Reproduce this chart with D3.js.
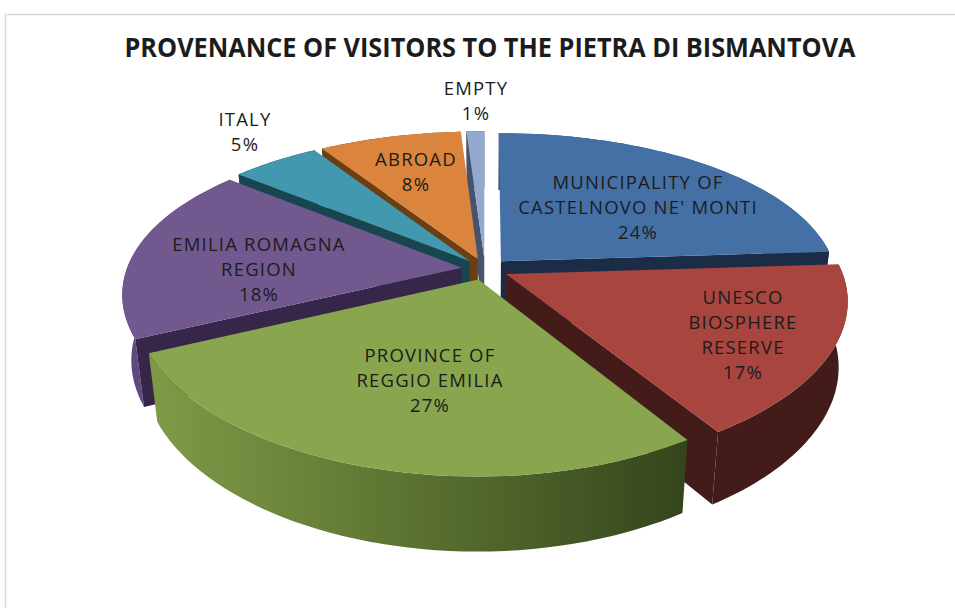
<!DOCTYPE html>
<html>
<head>
<meta charset="utf-8">
<script src="https://cdnjs.cloudflare.com/ajax/libs/d3/7.8.5/d3.min.js"></script>
<style>
  html, body { margin: 0; padding: 0; background: #fff; }
  svg { display: block; }
  text { font-family: "Open Sans", "Noto Sans", sans-serif; fill: #1c1c1c; }
</style>
</head>
<body>
<div id="chart"></div>
<script>
// data, clockwise from 12 o'clock
const categories = ["MUNICIPALITY OF CASTELNOVO NE' MONTI", "UNESCO BIOSPHERE RESERVE", "PROVINCE OF REGGIO EMILIA",
                    "EMILIA ROMAGNA REGION", "ITALY", "ABROAD", "EMPTY"];
const shares = [24, 17, 27, 18, 5, 8, 1];
const labelLines = [
  ["MUNICIPALITY OF", "CASTELNOVO NE' MONTI"],
  ["UNESCO", "BIOSPHERE", "RESERVE"],
  ["PROVINCE OF", "REGGIO EMILIA"],
  ["EMILIA ROMAGNA", "REGION"],
  ["ITALY"],
  ["ABROAD"],
  ["EMPTY"]
];
const title = "PROVENANCE OF VISITORS TO THE PIETRA DI BISMANTOVA";

// styling per slice
const topColors  = ["#4470a6", "#a8453f", "#89a54e", "#71588f", "#4198af", "#db843d", "#93a9cf"];
const sideColors = ["#1b2c47", "#431c19", "#34451c", "#35264a", "#174650", "#6b3f14", "#46536f"];
const rimColors  = ["#2c4a70", "#431c19", "url(#rimGreen)", "#5e4a80", "#174650", "#6b3f14", "#46536f"];
const drawOrder  = [6, 5, 0, 4, 3, 1, 2];   // back to front
const labelX = [638, 743, 430, 259, 245, 416, 476];
const labelY = [183, 298, 356, 245, 120, 160, 89];   // first line centre

const width = 955, height = 608;
const cx = 485, cy = 269;
const Rx = 335, Ry = 155;
const perspX = 0.16, perspY = 0.19, explode = 0.07;
const depth = 64, bottomShrink = 0.975;
const lineGap = 25;

const svg = d3.select("#chart").append("svg").attr("width", width).attr("height", height);

// frame
svg.append("path")
  .attr("d", `M5.5,${height} V14.5 H${width}`)
  .attr("fill", "none").attr("stroke", "#d9d9d9").attr("stroke-width", 1.5);

const grad = svg.append("defs").append("linearGradient")
  .attr("id", "rimGreen").attr("gradientUnits", "userSpaceOnUse")
  .attr("x1", 150).attr("x2", 692).attr("y1", 0).attr("y2", 0);
grad.append("stop").attr("offset", "0%").attr("stop-color", "#7f9a47");
grad.append("stop").attr("offset", "30%").attr("stop-color", "#6a8239");
grad.append("stop").attr("offset", "100%").attr("stop-color", "#33441b");

const pie = d3.pie().value(d => d).sort(null);
const arcs = pie(shares);
const line = d3.line();

// disc coords -> screen, lower = true gives the underside
function project(u, v, lower){
  const kx = 1 / (1 - perspX * v), ky = 1 / (1 - perspY * v);
  let sx = Rx * u * kx, sy = Ry * v * ky;
  if (lower){
    sx *= bottomShrink;
    sy = sy * bottomShrink + depth * ky;
  }
  return [cx + sx, cy + sy];
}

function rim(a, lower){
  const mid = (a.startAngle + a.endAngle) / 2;
  const ox = explode * Math.sin(mid), oy = -explode * Math.cos(mid);
  const steps = 48;
  return d3.range(steps + 1).map(i => {
    const t = a.startAngle + (a.endAngle - a.startAngle) * i / steps;
    return project(Math.sin(t) + ox, -Math.cos(t) + oy, lower);
  });
}
function apex(a, lower){
  const mid = (a.startAngle + a.endAngle) / 2;
  return project(explode * Math.sin(mid), -explode * Math.cos(mid), lower);
}

const gPie = svg.append("g");
drawOrder.forEach(i => {
  const a = arcs[i];
  const rimTop = rim(a, false), rimBot = rim(a, true);
  const apTop = apex(a, false), apBot = apex(a, true);
  const n = rimTop.length - 1;

  // outer wall
  gPie.append("path")
    .attr("d", line(rimTop.concat(rimBot.slice().reverse())) + "Z")
    .attr("fill", rimColors[i]);
  // radial walls, only the ones facing the viewer
  if (Math.sin(a.startAngle) < -1e-6) {
    gPie.append("path")
      .attr("d", line([apTop, rimTop[0], rimBot[0], apBot]) + "Z")
      .attr("fill", sideColors[i]);
  }
  if (Math.sin(a.endAngle) > 1e-6) {
    gPie.append("path")
      .attr("d", line([apTop, rimTop[n], rimBot[n], apBot]) + "Z")
      .attr("fill", sideColors[i]);
  }
  // top
  gPie.append("path")
    .attr("d", line([apTop].concat(rimTop)) + "Z")
    .attr("fill", topColors[i]);
});

// title
svg.append("text")
  .attr("x", 490).attr("y", 57)
  .attr("text-anchor", "middle")
  .attr("font-size", 26).attr("font-weight", 700)
  .attr("fill", "#111")
  .attr("textLength", 731).attr("lengthAdjust", "spacingAndGlyphs")
  .text(title);

// labels
const gLabels = svg.append("g")
  .attr("font-size", 18.5).attr("letter-spacing", 1.2).attr("text-anchor", "middle");
labelLines.forEach((lines, i) => {
  const all = lines.concat(shares[i] + "%");
  const t = gLabels.append("text").attr("aria-label", categories[i]);
  all.forEach((s, j) => {
    t.append("tspan")
      .attr("x", labelX[i])
      .attr("y", labelY[i] + j * lineGap + 6)
      .text(s);
  });
});
</script>
</body>
</html>
